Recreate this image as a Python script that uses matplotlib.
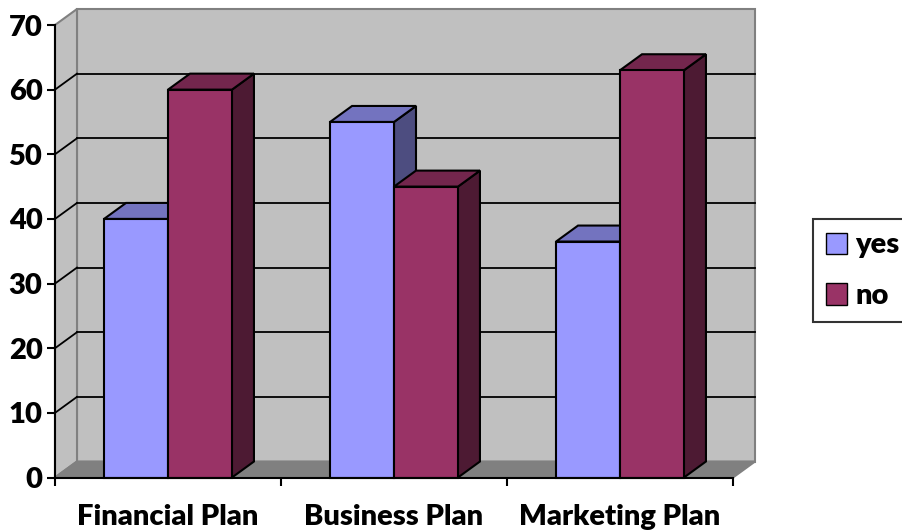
import matplotlib.pyplot as plt
from matplotlib.patches import Polygon, Patch

categories = ["Financial Plan", "Business Plan", "Marketing Plan"]
yes_vals = [40, 55, 36.5]
no_vals = [60, 45, 63]
y_ticks = [0, 10, 20, 30, 40, 50, 60, 70]

plt.rcParams['font.family'] = ['Lato', 'DejaVu Sans']
plt.rcParams['font.weight'] = 'heavy'

fig = plt.figure(figsize=(9.02, 5.31), dpi=100)
ax = fig.add_axes([55 / 902, 53.5 / 531, 678 / 902, 452.5 / 531])
ax.set_xlim(0, 3)
ax.set_ylim(0, 70)

# depth of the fake 3d box, in data units
dx = 22 / 678 * 3
dy = 16 / 452.5 * 70
wall = "#C0C0C0"
edge = "#808080"

def poly(pts, fc, ec="black", lw=1.5, z=1):
    ax.add_patch(Polygon(pts, closed=True, facecolor=fc, edgecolor=ec,
                         linewidth=lw, clip_on=False, zorder=z, joinstyle='miter'))

# back wall, side wall, floor
poly([(dx, dy), (3 + dx, dy), (3 + dx, 70 + dy), (dx, 70 + dy)], wall, edge, 1.5, 0.5)
poly([(0, 0), (dx, dy), (dx, 70 + dy), (0, 70)], wall, edge, 1.5, 0.6)
poly([(0, 0), (3, 0), (3 + dx, dy), (dx, dy)], "#808080", edge, 1.5, 0.7)

for v in y_ticks[1:-1]:
    ax.plot([dx, 3 + dx], [v + dy, v + dy], color="black", lw=1.3, zorder=0.8, clip_on=False)
    ax.plot([0, dx], [v, v + dy], color="black", lw=1.3, zorder=0.8, clip_on=False)

bw = 0.283
series = [
    (yes_vals, -bw, ("#9999FF", "#7373BF", "#4D4D80")),
    (no_vals, 0.0, ("#993366", "#73264D", "#4D1A33")),
]
z = 2
for i, c in enumerate(categories):
    for vals, off, (front, top, side) in series:
        v = vals[i]
        x0 = i + 0.5 + off
        x1 = x0 + bw
        poly([(x1, 0), (x1 + dx, dy), (x1 + dx, v + dy), (x1, v)], side, z=z)
        poly([(x0, v), (x1, v), (x1 + dx, v + dy), (x0 + dx, v + dy)], top, z=z)
        poly([(x0, 0), (x1, 0), (x1, v), (x0, v)], front, z=z)
        z += 1

for s in ["top", "right"]:
    ax.spines[s].set_visible(False)
ax.spines["left"].set_linewidth(1.5)
ax.spines["bottom"].set_linewidth(1.5)
ax.spines["left"].set_zorder(20)
ax.spines["bottom"].set_zorder(20)
ax.patch.set_visible(False)

ax.set_yticks(y_ticks)
ax.tick_params(axis='y', length=6, width=1.5, labelsize=21, pad=3)
ax.set_xticks([0, 1, 2, 3])
ax.set_xticklabels([])
ax.set_xticks([0.5, 1.5, 2.5], minor=True)
ax.set_xticklabels(categories, minor=True)
ax.tick_params(axis='x', which='major', length=6, width=1.5)
ax.tick_params(axis='x', which='minor', length=0, labelsize=21, pad=19)

handles = [Patch(facecolor="#9999FF", edgecolor="black", label="yes"),
           Patch(facecolor="#993366", edgecolor="black", label="no")]
leg = fig.legend(handles=handles, loc="center left", bbox_to_anchor=(813 / 902, 0.49),
                 fontsize=21, frameon=True, fancybox=False, edgecolor="black",
                 handlelength=0.7, handleheight=0.75, handletextpad=0.3,
                 borderpad=0.45, labelspacing=0.85, borderaxespad=0)
leg.get_frame().set_linewidth(1.5)

plt.savefig("out.png", dpi=100)
